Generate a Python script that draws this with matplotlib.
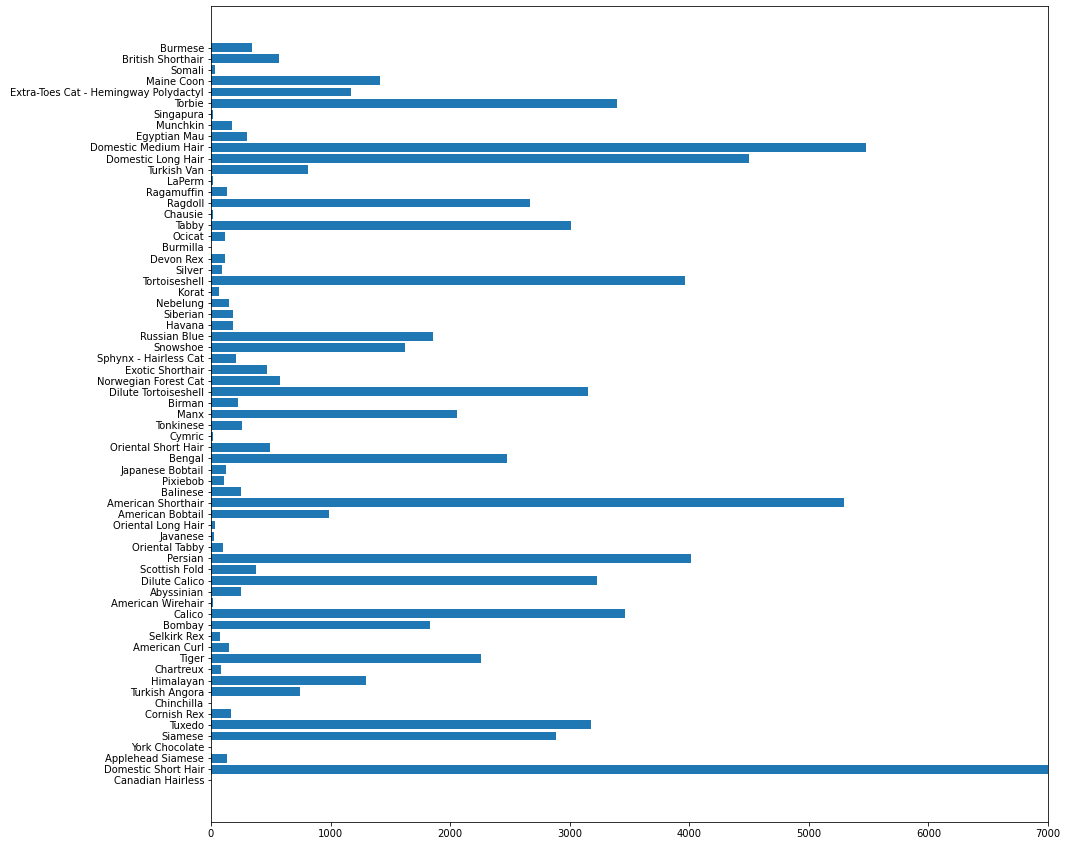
import matplotlib
matplotlib.use("Agg")
import matplotlib.pyplot as plt

breeds = [
    "Canadian Hairless", "Domestic Short Hair", "Applehead Siamese", "York Chocolate",
    "Siamese", "Tuxedo", "Cornish Rex", "Chinchilla", "Turkish Angora", "Himalayan",
    "Chartreux", "Tiger", "American Curl", "Selkirk Rex", "Bombay", "Calico",
    "American Wirehair", "Abyssinian", "Dilute Calico", "Scottish Fold", "Persian",
    "Oriental Tabby", "Javanese", "Oriental Long Hair", "American Bobtail",
    "American Shorthair", "Balinese", "Pixiebob", "Japanese Bobtail", "Bengal",
    "Oriental Short Hair", "Cymric", "Tonkinese", "Manx", "Birman",
    "Dilute Tortoiseshell", "Norwegian Forest Cat", "Exotic Shorthair",
    "Sphynx - Hairless Cat", "Snowshoe", "Russian Blue", "Havana", "Siberian",
    "Nebelung", "Korat", "Tortoiseshell", "Silver", "Devon Rex", "Burmilla", "Ocicat",
    "Tabby", "Chausie", "Ragdoll", "Ragamuffin", "LaPerm", "Turkish Van",
    "Domestic Long Hair", "Domestic Medium Hair", "Egyptian Mau", "Munchkin",
    "Singapura", "Torbie", "Extra-Toes Cat - Hemingway Polydactyl", "Maine Coon",
    "Somali", "British Shorthair", "Burmese",
]

counts = [
    1, 8000, 131, 2,
    2885, 3178, 165, 3, 742, 1294,
    81, 2258, 148, 73, 1832, 3462,
    14, 248, 3228, 374, 4014,
    98, 22, 31, 984,
    5294, 248, 106, 123, 2476,
    491, 14, 257, 2057, 223,
    3153, 574, 466,
    209, 1622, 1857, 181, 181,
    150, 64, 3964, 89, 114, 3, 114,
    3011, 19, 2668, 131, 14, 809,
    4500, 5478, 298, 173,
    14, 3395, 1168, 1413,
    31, 566, 340,
]

W, H = 1067, 846
fig = plt.figure(figsize=(W / 72, H / 72), dpi=72)
ax = fig.add_axes([211 / W, (H - 822) / H, (1048 - 211) / W, (822 - 6) / H])
ax.barh(breeds, counts, color="#1f77b4")
ax.set_xlim(0, 7000)
ax.tick_params(labelsize=10)
fig.savefig("out.png", dpi=72)
